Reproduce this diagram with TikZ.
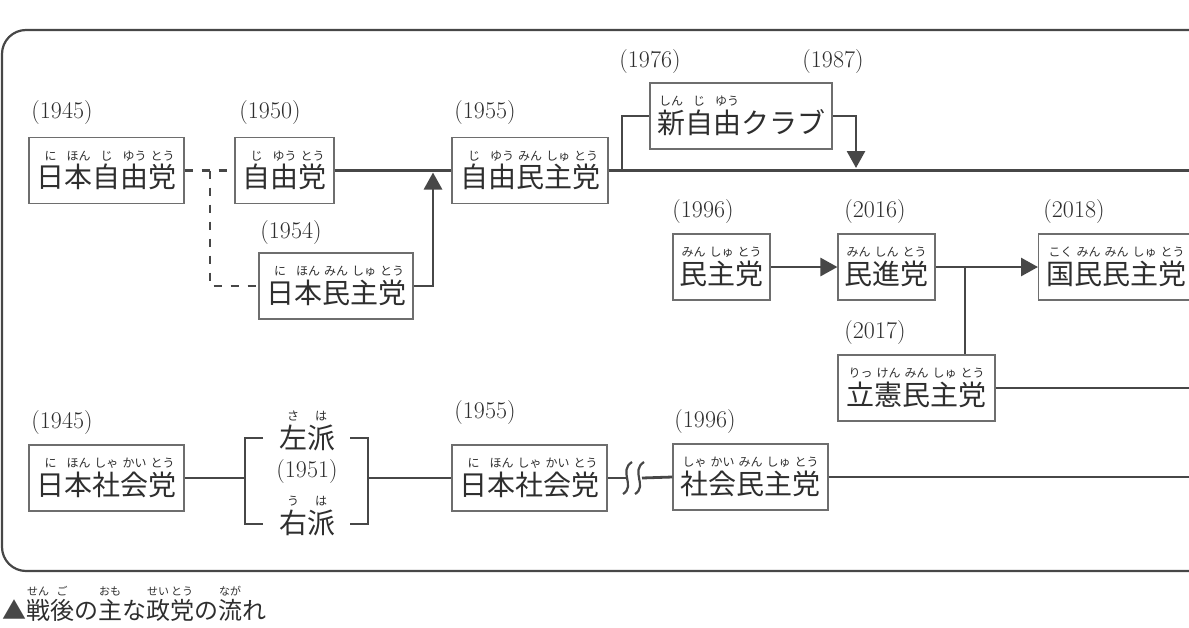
\documentclass[tikz,border=0pt]{standalone}
\usepackage{fontspec}
\newfontfamily\jp{Noto Sans CJK JP}
\usetikzlibrary{arrows.meta,calc}

\definecolor{flowLine}{HTML}{474747}
\definecolor{flowBox}{HTML}{6E6E6E}
\definecolor{flowText}{HTML}{2E2E2E}

% ruby: reading set above one kanji
\newcommand\rbsize{\fontsize{12}{13}\selectfont}
\newcommand\rb[2]{\leavevmode\setbox0\hbox{#1}%
  \rlap{\hbox to\wd0{\hss\raisebox{0.98em}{\rbsize #2}\hss}}\box0}

\begin{document}
\begin{tikzpicture}[
                x=1pt, y=-1pt,
                partyLine/.style={draw=flowLine,line width=2.8pt},
                partyDash/.style={draw=flowLine,line width=2.8pt,dash pattern=on 8pt off 9pt},
                partyArrow/.style={partyLine,-{Triangle[width=18pt,length=17pt]}},
                partyBox/.style={draw=flowBox,line width=1.1pt,minimum height=66pt,
                                 inner sep=0pt,text=flowText,
                                 font=\jp\fontsize{28}{30}\selectfont},
                partyName/.style={inner sep=0pt,text=flowText,
                                  font=\jp\fontsize{28}{30}\selectfont},
                partyYear/.style={inner sep=0pt,text=flowText,
                                  font=\fontsize{24}{26}\selectfont}]
                \useasboundingbox (0,0) rectangle (1189,627);
                \clip (0,0) rectangle (1189,627);
                \coordinate (rEdge) at (1200,0);

                % outer frame, runs off the right edge
                \draw[draw=flowLine,line width=2.2pt,rounded corners=24pt] (2,30) rectangle (1260,571);

                % Liberal line: 1945 -> 1955
                \node[partyYear] (yJlp) at (62,113) {(1945)};
                \node[partyBox,minimum width=155pt] (jlp) at (106.5,170.5)
                    {\rb{日}{に}\rb{本}{ほん}\rb{自}{じ}\rb{由}{ゆう}\rb{党}{とう}};
                \node[partyYear] (yLp) at (270,113) {(1950)};
                \node[partyBox,minimum width=99pt] (lp) at (284.5,170.5)
                    {\rb{自}{じ}\rb{由}{ゆう}\rb{党}{とう}};
                \node[partyYear] (yJdp) at (291,233) {(1954)};
                \node[partyBox,minimum width=154pt] (jdp) at (336,286)
                    {\rb{日}{に}\rb{本}{ほん}\rb{民}{みん}\rb{主}{しゅ}\rb{党}{とう}};
                \node[partyYear] (yLdp) at (485,113) {(1955)};
                \node[partyBox,minimum width=156pt] (ldp) at (530,170.5)
                    {\rb{自}{じ}\rb{由}{ゆう}\rb{民}{みん}\rb{主}{しゅ}\rb{党}{とう}};

                \coordinate (dashFork) at (210,170.5);
                \coordinate (jdpUp) at (433,172.5);
                \draw[partyDash] (jlp.east) -- (lp.west);
                \draw[partyDash] (dashFork) |- (jdp.west);
                \draw[partyLine] (lp.east) -- (ldp.west);
                \draw[partyArrow] (jdp.east) -| (jdpUp);
                \draw[partyLine] (ldp.east) -- (ldp.east -| rEdge);

                % New Liberal Club: 1976 -> 1987
                \node[partyYear] (yNlc) at (650,62) {(1976)};
                \node[partyYear] (yNlcEnd) at (833,62) {(1987)};
                \node[partyBox,minimum width=182pt] (nlc) at (741,116)
                    {\rb{新}{しん}\rb{自}{じ}\rb{由}{ゆう}クラブ};
                \coordinate (nlcFork) at (622,170.5);
                \coordinate (nlcDown) at (856,168);
                \draw[partyLine] (nlcFork) |- (nlc.west);
                \draw[partyArrow] (nlc.east) -| (nlcDown);

                % Democratic line: 1996 -> 2018
                \node[partyYear] (yDpj) at (703,212) {(1996)};
                \node[partyBox,minimum width=97pt] (dpj) at (721.5,267)
                    {\rb{民}{みん}\rb{主}{しゅ}\rb{党}{とう}};
                \node[partyYear] (yDp) at (875,212) {(2016)};
                \node[partyBox,minimum width=97pt] (dp) at (886.5,267)
                    {\rb{民}{みん}\rb{進}{しん}\rb{党}{とう}};
                \node[partyYear] (yDpfp) at (1074,212) {(2018)};
                \node[partyBox,minimum width=156pt,anchor=west] (dpfp) at (1038,267)
                    {\rb{国}{こく}\rb{民}{みん}\rb{民}{みん}\rb{主}{しゅ}\rb{党}{とう}};
                \node[partyYear] (yCdp) at (875,333) {(2017)};
                \node[partyBox,minimum width=157pt] (cdp) at (916.5,388)
                    {\rb{立}{りっ}\rb{憲}{けん}\rb{民}{みん}\rb{主}{しゅ}\rb{党}{とう}};

                \coordinate (dpFork) at (965,267);
                \draw[partyArrow] (dpj.east) -- (dp.west);
                \draw[partyArrow] (dp.east) -- (dpfp.west);
                \draw[partyLine] (dpFork) -- (dpFork |- cdp.north);
                \draw[partyLine] (cdp.east) -- (cdp.east -| rEdge);

                % Socialist line: 1945 -> 1996
                \node[partyYear] (yJsp) at (62,423) {(1945)};
                \node[partyBox,minimum width=155pt] (jsp) at (106.5,478)
                    {\rb{日}{に}\rb{本}{ほん}\rb{社}{しゃ}\rb{会}{かい}\rb{党}{とう}};
                \node[partyName] (left) at (307,431) {\rb{左}{さ}\rb{派}{は}};
                \node[partyYear] (ySplit) at (307,472) {(1951)};
                \node[partyName] (right) at (307,516) {\rb{右}{う}\rb{派}{は}};
                \node[partyYear] (yJsp2) at (485,413) {(1955)};
                \node[partyBox,minimum width=155pt] (jsp2) at (529.5,478)
                    {\rb{日}{に}\rb{本}{ほん}\rb{社}{しゃ}\rb{会}{かい}\rb{党}{とう}};
                \node[partyYear] (ySdp) at (705,422) {(1996)};
                \node[partyBox,minimum width=155pt] (sdp) at (750.5,477)
                    {\rb{社}{しゃ}\rb{会}{かい}\rb{民}{みん}\rb{主}{しゅ}\rb{党}{とう}};

                \coordinate (brL) at (245,478);
                \coordinate (brR) at (368,478);
                \coordinate (wave) at (634,478);
                \draw[partyLine] (jsp.east) -- (brL);
                \draw[partyLine] (263,438) -- (245,438) -- (245,524) -- (263,524);
                \draw[partyLine] (350,438) -- (368,438) -- (368,524) -- (350,524);
                \draw[partyLine] (brR) -- (jsp2.west);
                \draw[partyLine] (jsp2.east) -- ($(wave)+(-8,0)$);
                \draw[partyLine] ($(wave)+(8,0)$) -- (sdp.west);
                \draw[draw=flowLine,line width=2.2pt]
                    (632,462) .. controls (618,471) and (636,486) .. (623,494)
                    (644,462) .. controls (630,471) and (648,486) .. (635,494);
                \draw[partyLine] (sdp.east) -- (sdp.east -| rEdge);

                % caption
                \node[anchor=base west,inner sep=0pt,text=flowText,
                      font={\jp\fontsize{24}{26}\selectfont\def\rbsize{\fontsize{11}{12}\selectfont}}]
                    (caption) at (2,619)
                    {{\color{flowLine}▲}\rb{戦}{せん}\rb{後}{ご}の\rb{主}{おも}な\rb{政}{せい}\rb{党}{とう}の\rb{流}{なが}れ};

            \end{tikzpicture}
\end{document}
